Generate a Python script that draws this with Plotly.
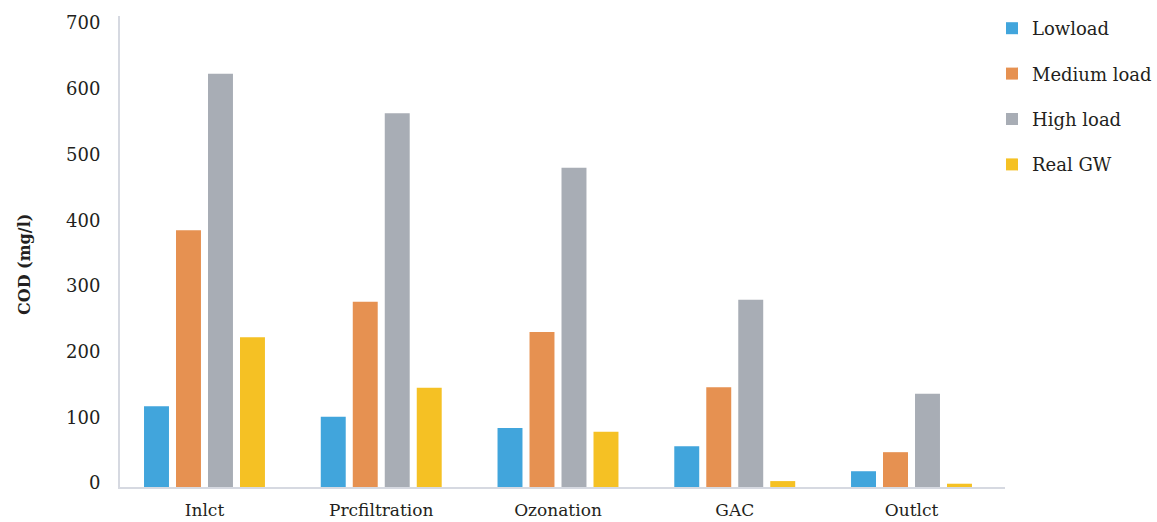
import plotly.graph_objects as go

# Treatment stages along the x axis
stages = ["Inlct", "Prcfiltration", "Ozonation", "GAC", "Outlct"]

# COD (mg/l) per stage for each influent condition
low_load = [123, 107, 90, 62, 24]
medium_load = [391, 282, 236, 152, 53]
high_load = [629, 569, 486, 285, 142]
real_gw = [228, 151, 84, 9, 5]

series_names = ["Lowload", "Medium load", "High load", "Real GW"]
series_values = [low_load, medium_load, high_load, real_gw]
series_colors = ["#41A5DC", "#E69151", "#A8ADB5", "#F5C124"]

y_ticks = [0, 100, 200, 300, 400, 500, 600, 700]

W, H = 1157, 522
ML, MR, MT, MB = 120, 152, 16, 35

FONT = "DejaVu Serif"
TEXT = "#231F20"
AXIS = "#D6D9E1"

fig = go.Figure()
for i, (name, vals, color) in enumerate(zip(series_names, series_values, series_colors)):
    fig.add_trace(go.Bar(
        x=stages, y=vals, name=name,
        marker=dict(color=color, line=dict(width=0)),
        legendgroup=f"g{i}",
    ))

fig.update_layout(
    width=W, height=H,
    margin=dict(l=ML, r=MR, t=MT, b=MB, autoexpand=False),
    paper_bgcolor="white", plot_bgcolor="white",
    barmode="group", bargap=0.276, bargroupgap=0.22,
    font=dict(family=FONT, size=18, color=TEXT),
    showlegend=True,
    legend=dict(
        xref="container", x=992 / W, xanchor="left",
        yref="container", y=1 - 10 / H, yanchor="top",
        font=dict(family=FONT, size=18, color=TEXT),
        tracegroupgap=19, bgcolor="rgba(0,0,0,0)",
    ),
)

fig.update_xaxes(
    range=[-0.478, 4.529],
    showline=True, linecolor=AXIS, linewidth=2,
    ticks="", showgrid=False, zeroline=False,
    tickfont=dict(family=FONT, size=17, color=TEXT),
    ticklabelstandoff=7,
)
fig.update_yaxes(
    range=[0, 717],
    tickvals=y_ticks, ticktext=[str(v) for v in y_ticks],
    showline=True, linecolor=AXIS, linewidth=2,
    ticks="", showgrid=False, zeroline=False,
    tickfont=dict(family=FONT, size=18, color=TEXT),
    ticklabelshift=-4, ticklabelstandoff=14,
)

# Vertical axis title
plot_w = W - ML - MR
plot_h = H - MT - MB
fig.add_annotation(
    text="<b>COD (mg/l)</b>", textangle=-90, showarrow=False,
    xref="paper", yref="paper",
    x=(24 - ML) / plot_w, y=(H - MB - 265) / plot_h,
    xanchor="center", yanchor="middle",
    font=dict(family=FONT, size=16, color=TEXT),
)

fig.write_html("out.html")
